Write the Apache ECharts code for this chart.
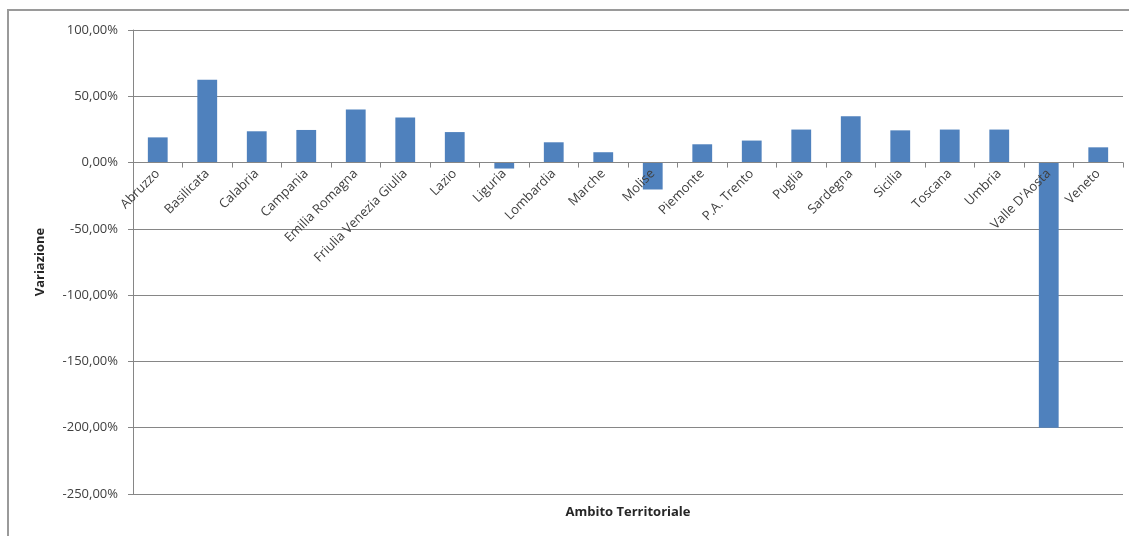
<!DOCTYPE html>
<html>
<head>
<meta charset="utf-8">
<script src="https://cdn.jsdelivr.net/npm/echarts@6/dist/echarts.min.js"></script>
<style>
html,body{margin:0;padding:0;background:#fff;}
#chart{width:1129px;height:536px;}
</style>
</head>
<body>
<div id="chart"></div>
<script>
const categories = ["Abruzzo","Basilicata","Calabria","Campania","Emilia Romagna","Friulia Venezia Giulia","Lazio","Liguria","Lombardia","Marche","Molise","Piemonte","P.A. Trento","Puglia","Sardegna","Sicilia","Toscana","Umbria","Valle D'Aosta","Veneto"];
const variazione = [19.0, 62.5, 23.6, 24.6, 40.0, 34.0, 23.0, -4.5, 15.3, 7.8, -20.3, 13.8, 16.6, 24.9, 34.9, 24.3, 24.9, 24.9, -200.0, 11.5];
const yMin = -250, yMax = 100, yStep = 50;
const yTitle = "Variazione";
const xTitle = "Ambito Territoriale";

const W = 1129, H = 536;
const gridLeft = 133, gridRight = 6, gridTop = 30, gridBottom = 42;
const gridH = H - gridTop - gridBottom;
// move category axis up to the zero line (Excel style)
const zeroOffset = -gridH * (0 - yMin) / (yMax - yMin);

const chart = echarts.init(document.getElementById('chart'));
const font = "'Open Sans', 'Liberation Sans', sans-serif";
chart.setOption({
  animation: false,
  backgroundColor: '#ffffff',
  grid: {left: gridLeft, right: gridRight, top: gridTop, bottom: gridBottom, containLabel: false, outerBoundsMode: 'none'},
  xAxis: {
    type: 'category',
    data: categories,
    boundaryGap: true,
    offset: zeroOffset,
    z: 5,
    axisLine: {onZero: false, lineStyle: {color: '#868686', width: 1}},
    axisTick: {show: true, alignWithLabel: false, length: 5, lineStyle: {color: '#868686'}},
    axisLabel: {interval: 0, rotate: 45, fontSize: 13, color: '#404040', fontFamily: font, margin: 9},
    splitLine: {show: false}
  },
  yAxis: {
    type: 'value',
    min: yMin, max: yMax, interval: yStep,
    name: yTitle,
    nameLocation: 'middle',
    nameGap: 86,
    nameTextStyle: {fontSize: 13, fontWeight: 'bold', color: '#262626', fontFamily: font},
    axisLine: {show: true, lineStyle: {color: '#868686'}},
    axisTick: {show: true, length: 5, lineStyle: {color: '#868686'}},
    axisLabel: {
      fontSize: 13, color: '#404040', fontFamily: font, margin: 15,
      formatter: v => v.toFixed(2).replace('.', ',') + '%'
    },
    splitLine: {show: true, lineStyle: {color: '#868686', width: 1}}
  },
  series: [{
    type: 'bar',
    data: variazione,
    barWidth: '40%',
    itemStyle: {color: '#4F81BD'}
  }],
  graphic: [
    {type: 'rect', silent: true, shape: {x: 8, y: 10, width: 1140, height: 560}, style: {fill: 'none', stroke: '#9a9a9a', lineWidth: 2}},
    {type: 'text', silent: true, style: {x: 628, y: 512, text: xTitle, align: 'center', verticalAlign: 'middle', fontSize: 13, fontWeight: 'bold', fill: '#262626', fontFamily: font}}
  ]
});
</script>
</body>
</html>
